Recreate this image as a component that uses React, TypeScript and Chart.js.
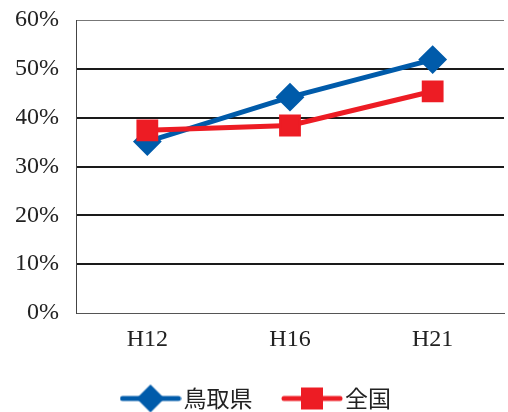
import React, { useEffect, useRef } from "react";
import { Chart, registerables } from "chart.js";

Chart.register(...registerables);

const categories = ["H12", "H16", "H21"];
const tottoriValues = [35.1, 44.2, 51.9];
const nationalValues = [37.4, 38.4, 45.4];
const seriesNames = ["鳥取県", "全国"];
const yTicks = [0, 10, 20, 30, 40, 50, 60];

const BLUE = "#005BAA";
const RED = "#ED1C24";

function legendImage(color: string, kind: "diamond" | "square"): HTMLCanvasElement {
  const c = document.createElement("canvas");
  c.width = 62;
  c.height = 32;
  const ctx = c.getContext("2d")!;
  ctx.strokeStyle = color;
  ctx.lineWidth = 5;
  ctx.lineCap = "round";
  ctx.beginPath();
  ctx.moveTo(3, 16);
  ctx.lineTo(59, 16);
  ctx.stroke();
  ctx.fillStyle = color;
  ctx.beginPath();
  if (kind === "diamond") {
    ctx.moveTo(31, 2);
    ctx.lineTo(45, 16);
    ctx.lineTo(31, 30);
    ctx.lineTo(17, 16);
    ctx.closePath();
  } else {
    ctx.rect(20, 5, 22, 22);
  }
  ctx.fill();
  return c;
}

export default function App() {
  const ref = useRef<HTMLCanvasElement>(null);
  useEffect(() => {
    if (!ref.current) return;
    const imgs = [legendImage(BLUE, "diamond"), legendImage(RED, "square")];
    const chart = new Chart(ref.current, {
      type: "line",
      data: {
        labels: categories,
        datasets: [
          {
            label: seriesNames[0],
            data: tottoriValues,
            borderColor: BLUE,
            backgroundColor: BLUE,
            borderWidth: 5,
            pointStyle: "rectRot",
            pointRadius: 13,
            pointBorderWidth: 2,
            order: 2,
          },
          {
            label: seriesNames[1],
            data: nationalValues,
            borderColor: RED,
            backgroundColor: RED,
            borderWidth: 5,
            pointStyle: "rect",
            pointRadius: 14,
            pointBorderWidth: 2,
            order: 1,
          },
        ],
      },
      options: {
        animation: false,
        responsive: false,
        maintainAspectRatio: false,
        layout: { autoPadding: false, padding: { top: 20, right: 4, left: 16, bottom: -8 } },
        plugins: {
          tooltip: { enabled: false },
          legend: {
            position: "bottom",
            labels: {
              usePointStyle: true,
              pointStyleWidth: 43,
              padding: 38,
              color: "#222",
              font: { family: "'Noto Sans CJK JP', sans-serif", size: 23 },
              generateLabels: (ch: any) =>
                ch.data.datasets.map((ds: any, i: number) => ({
                  text: ds.label,
                  pointStyle: imgs[i],
                  fillStyle: ds.borderColor,
                  strokeStyle: ds.borderColor,
                  lineWidth: 0,
                  datasetIndex: i,
                  hidden: false,
                  fontColor: "#222",
                })),
            },
          },
        },
        scales: {
          x: {
            offset: true,
            grid: { display: false, drawTicks: false },
            border: { display: true, color: "#555", width: 1 },
            ticks: {
              padding: 12,
              color: "#222",
              font: { family: "'Liberation Serif', serif", size: 24 },
            },
            afterFit: (s: any) => {
              s.height = 36;
              s.paddingLeft = 0;
              s.paddingRight = 0;
            },
          },
          y: {
            min: 0,
            max: 60,
            afterBuildTicks: (s: any) => {
              s.ticks = yTicks.map((v) => ({ value: v }));
            },
            grid: {
              drawTicks: false,
              color: (c: any) => (c.tick && (c.tick.value === 60 || c.tick.value === 0) ? "#777" : "#1a1a1a"),
              lineWidth: (c: any) => (c.tick && (c.tick.value === 60 || c.tick.value === 0) ? 1 : 2),
            },
            border: { display: true, color: "#444", width: 1 },
            ticks: {
              padding: 17,
              color: "#222",
              font: { family: "'Liberation Serif', serif", size: 24 },
              callback: (v: any) => v + "%",
            },
            afterFit: (s: any) => {
              s.width = 60;
              s.paddingTop = 0;
              s.paddingBottom = 0;
            },
          },
        },
      },
    });
    return () => chart.destroy();
  }, []);
  return (
    <div style={{ position: "fixed", left: 0, top: 0, width: 508, height: 412, background: "#fff" }}>
      <canvas ref={ref} width={508} height={412} style={{ width: 508, height: 412 }} />
    </div>
  );
}
